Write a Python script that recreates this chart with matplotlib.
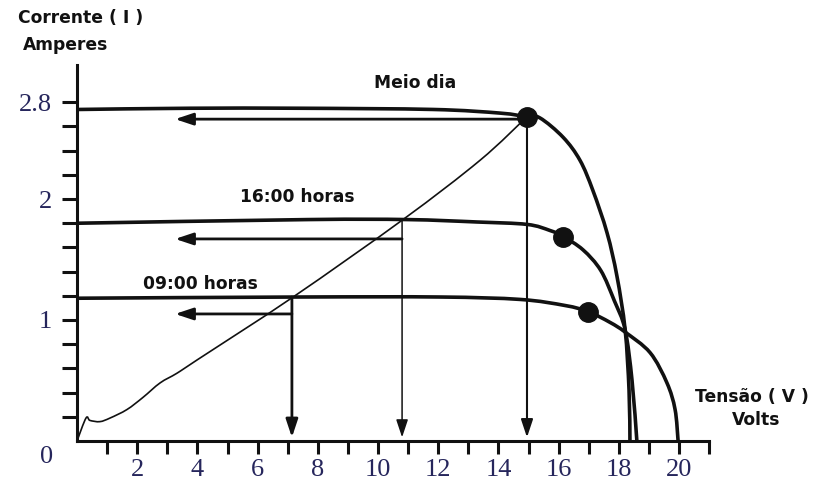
import matplotlib
matplotlib.use('Agg')
import matplotlib.pyplot as plt
from matplotlib.path import Path
from matplotlib.patches import PathPatch

# ---------------- data ----------------
noon_v = [0.07, 3.75, 7.41, 11.83, 14.05, 14.95, 15.38, 16.15, 16.71, 17.14, 17.61, 17.94, 18.21, 18.34, 18.37]
noon_i = [2.74, 2.75, 2.75, 2.74, 2.71, 2.68, 2.67, 2.51, 2.32, 2.07, 1.72, 1.36, 0.92, 0.42, 0.0]

h16_v = [0.07, 7.67, 10.96, 13.29, 14.95, 15.71, 16.15, 16.81, 17.40, 17.85, 18.21, 18.44, 18.60]
h16_i = [1.80, 1.83, 1.83, 1.81, 1.79, 1.74, 1.69, 1.58, 1.41, 1.16, 0.92, 0.50, 0.0]

h09_v = [0.07, 7.41, 12.06, 14.72, 16.21, 16.98, 17.71, 18.21, 19.04, 19.60, 19.87, 19.97]
h09_i = [1.18, 1.19, 1.19, 1.17, 1.12, 1.07, 0.98, 0.90, 0.73, 0.48, 0.26, 0.0]

load_v = [0.0, 0.30, 0.43, 0.76, 1.10, 1.66, 2.19, 2.76, 3.32, 3.99, 7.18, 10.83, 13.39, 14.95]
load_i = [0.0, 0.19, 0.17, 0.16, 0.19, 0.26, 0.36, 0.48, 0.56, 0.67, 1.19, 1.83, 2.32, 2.68]

# maximum power points (dots)
mpp_v = [14.95, 16.15, 16.98]
mpp_i = [2.68, 1.69, 1.07]

# operating points where the load line meets each curve (noon, 16:00, 09:00)
op_v = [14.95, 10.80, 7.14]
op_i = [2.68, 1.83, 1.19]
arrow_tip_v = 3.26

curve_labels = ["Meio dia", "16:00 horas", "09:00 horas"]

x_ticks = list(range(1, 22))
x_ticklabels = [str(t) if (t % 2 == 0 and t <= 20) else "" for t in x_ticks]
y_ticks = [round(0.2 * k, 1) for k in range(1, 15)]
y_ticklabels = {1.0: "1", 2.0: "2", 2.8: "2.8"}

# ---------------- figure ----------------
W, H = 814, 497
fig = plt.figure(figsize=(W / 100, H / 100), dpi=100)
x0, y0 = 77, 441
sx, sy = 30.1, 121.0
xmax, ymax = 21.0, 3.11
ax = fig.add_axes([x0 / W, (H - y0) / H, xmax * sx / W, ymax * sy / H])
ax.set_xlim(0, xmax)
ax.set_ylim(0, ymax)

ink = "#111111"
navy = "#26265c"


def smooth_path(xs, ys):
    """Bezier path (Catmull-Rom style) passing through the given points."""
    pts = list(zip(xs, ys))
    n = len(pts)
    verts = [pts[0]]
    codes = [Path.MOVETO]
    for i in range(n - 1):
        p0 = pts[i - 1] if i > 0 else pts[i]
        p1 = pts[i]
        p2 = pts[i + 1]
        p3 = pts[i + 2] if i + 2 < n else pts[i + 1]
        c1 = (p1[0] + (p2[0] - p0[0]) / 6.0, p1[1] + (p2[1] - p0[1]) / 6.0)
        c2 = (p2[0] - (p3[0] - p1[0]) / 6.0, p2[1] - (p3[1] - p1[1]) / 6.0)
        verts += [c1, c2, p2]
        codes += [Path.CURVE4] * 3
    return Path(verts, codes)


for xs, ys, lw in [(noon_v, noon_i, 2.6), (h16_v, h16_i, 2.6), (h09_v, h09_i, 2.6),
                   (load_v, load_i, 1.2)]:
    ax.add_patch(PathPatch(smooth_path(xs, ys), facecolor='none', edgecolor=ink, lw=lw,
                           capstyle='round', joinstyle='round'))

# MPP dots
ax.plot(mpp_v, mpp_i, 'o', color=ink, markersize=14, zorder=5)

# arrows
head = '-|>,head_length=0.6,head_width=0.2'
vert_lw = [1.5, 1.1, 2.0]
for k in range(3):
    ax.annotate('', xy=(arrow_tip_v, mpp_i[k] - 0.02), xytext=(op_v[k], mpp_i[k] - 0.02),
                arrowprops=dict(arrowstyle=head, color=ink, lw=2.0, mutation_scale=18,
                                shrinkA=0, shrinkB=0))
    ax.annotate('', xy=(op_v[k], 0.03), xytext=(op_v[k], op_i[k]),
                arrowprops=dict(arrowstyle=head, color=ink, lw=vert_lw[k], mutation_scale=18,
                                shrinkA=0, shrinkB=0))

# curve labels
lab_font = dict(family='DejaVu Sans', fontweight='bold', fontsize=12.3, color=ink,
                ha='center', va='center')
ax.text(11.23, 2.96, curve_labels[0], **lab_font)
ax.text(7.31, 2.02, curve_labels[1], **lab_font)
ax.text(4.09, 1.30, curve_labels[2], **lab_font)

# spines
for s in ['top', 'right']:
    ax.spines[s].set_visible(False)
for s in ['left', 'bottom']:
    ax.spines[s].set_linewidth(2.2)
    ax.spines[s].set_color(ink)

# ticks
ax.set_xticks(x_ticks)
ax.set_xticklabels(x_ticklabels)
ax.set_yticks(y_ticks)
ax.set_yticklabels([y_ticklabels.get(t, "") for t in y_ticks])
ax.tick_params(axis='x', direction='out', length=9, width=2.2, color=ink, pad=4,
               labelsize=19, labelcolor=navy)
ax.tick_params(axis='y', direction='out', length=11, width=2.2, color=ink, pad=7,
               labelsize=19, labelcolor=navy)
for lab in ax.get_xticklabels() + ax.get_yticklabels():
    lab.set_family('Liberation Serif')

ax.text(-1.0, -0.13, "0", fontsize=19, color=navy, family='Liberation Serif',
        ha='center', va='center', clip_on=False)

# axis titles
tfont = dict(family='DejaVu Sans', fontweight='bold', fontsize=12.3, color=ink)
fig.text(18 / W, 1 - 18 / H, "Corrente ( I )", ha='left', va='center', **tfont)
fig.text(23 / W, 1 - 45 / H, "Amperes", ha='left', va='center', **tfont)
fig.text(752 / W, 1 - 397 / H, "Tensão ( V )", ha='center', va='center', **tfont)
fig.text(756 / W, 1 - 420 / H, "Volts", ha='center', va='center', **tfont)

fig.savefig('out.png', dpi=100, facecolor='white')
